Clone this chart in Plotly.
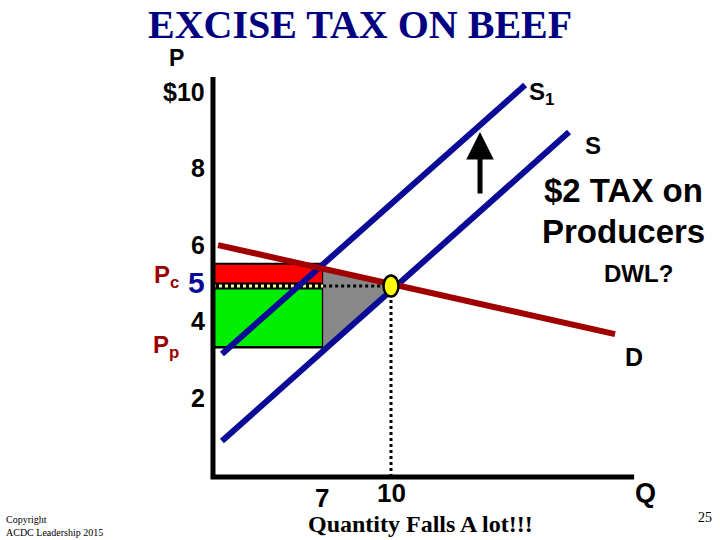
import plotly.graph_objects as go

# ---------------- data ----------------
title_text = "EXCISE TAX ON BEEF"
price_ticks = [10, 8, 6, 4, 2]
price_tick_text = ["$10", "8", "6", "4", "2"]
qty_ticks = [7, 10]
qty_tick_text = ["7", "10"]

axis_q = [2.26, 2.26, 20.57]      # top of P axis -> origin -> end of Q axis
axis_p = [10.47, 0.0, 0.0]

supply_q = [2.65, 17.74]
supply_p = [0.94, 9.03]
supply1_q = [2.65, 15.83]
supply1_p = [3.22, 10.26]
demand_q = [2.48, 19.74]
demand_p = [6.07, 3.74]

eq_q, eq_p = 10.0, 5.0
tax_q = 7.05
price_consumer = 5.58
price_producer = 3.40
arrow_q = 13.87
arrow_p = [7.38, 9.03]

NAVY = "#0a0a96"
DRED = "#a00000"
SANS = "Liberation Sans, Arial, sans-serif"
SERIF = "Liberation Serif, Times New Roman, serif"


def on_line(qs, ps, q):
    return ps[0] + (ps[1] - ps[0]) * (q - qs[0]) / (qs[1] - qs[0])


q0 = axis_q[1]
fig = go.Figure()

# consumer tax burden (red) and producer tax burden (green)
fig.add_trace(go.Scatter(x=[q0, tax_q, tax_q, q0, q0],
                         y=[eq_p, eq_p, price_consumer, price_consumer, eq_p],
                         fill="toself", fillcolor="#ff0000", mode="lines",
                         line=dict(color="black", width=2)))
fig.add_trace(go.Scatter(x=[q0, tax_q, tax_q, q0, q0],
                         y=[price_producer, price_producer, eq_p, eq_p, price_producer],
                         fill="toself", fillcolor="#00ee00", mode="lines",
                         line=dict(color="black", width=2.5)))
# deadweight loss triangle
fig.add_trace(go.Scatter(x=[tax_q, eq_q, tax_q, tax_q],
                         y=[on_line(demand_q, demand_p, tax_q), eq_p,
                            on_line(supply_q, supply_p, tax_q),
                            on_line(demand_q, demand_p, tax_q)],
                         fill="toself", fillcolor="#888888", mode="lines",
                         line=dict(color="#888888", width=0)))
# price line band across the rectangles
fig.add_trace(go.Scatter(x=[q0, tax_q], y=[eq_p, eq_p], mode="lines",
                         line=dict(color="black", width=7)))
fig.add_trace(go.Scatter(x=[q0, tax_q], y=[eq_p, eq_p], mode="lines",
                         line=dict(color="#ffff99", width=3, dash="dot")))
# dotted guides
fig.add_trace(go.Scatter(x=[tax_q, eq_q], y=[eq_p, eq_p], mode="lines",
                         line=dict(color="black", width=3, dash="dot")))
fig.add_trace(go.Scatter(x=[eq_q, eq_q], y=[0, eq_p], mode="lines",
                         line=dict(color="black", width=3, dash="dot")))
# axes
fig.add_trace(go.Scatter(x=axis_q, y=axis_p, mode="lines",
                         line=dict(color="black", width=5)))
# curves
fig.add_trace(go.Scatter(x=supply1_q, y=supply1_p, mode="lines",
                         line=dict(color=NAVY, width=6)))
fig.add_trace(go.Scatter(x=supply_q, y=supply_p, mode="lines",
                         line=dict(color=NAVY, width=6)))
fig.add_trace(go.Scatter(x=demand_q, y=demand_p, mode="lines",
                         line=dict(color=DRED, width=6)))

# yellow equilibrium dot (ellipse ~14 x 20 px)
dq = 7.5 / 23.0
dp = 10.5 / 38.2
fig.add_shape(type="circle", xref="x", yref="y",
              x0=eq_q - dq, x1=eq_q + dq, y0=eq_p - dp, y1=eq_p + dp,
              fillcolor="#ffff00", line=dict(color="black", width=2.5))

# shift arrow
fig.add_annotation(x=arrow_q, y=arrow_p[1], ax=arrow_q, ay=arrow_p[0],
                   xref="x", yref="y", axref="x", ayref="y", text="",
                   showarrow=True, arrowhead=2, arrowsize=1.1, arrowwidth=5,
                   arrowcolor="black", standoff=0)

ann = []


def txt(text, x, y, size, color="black", font=SANS, xanchor="center",
        yanchor="middle", xref="paper", yref="paper", align="center"):
    if xref == "paper":
        x = x / 720.0
        y = 1 - y / 540.0
    ann.append(dict(text=text, x=x, y=y, xref=xref, yref=yref, showarrow=False,
                    xanchor=xanchor, yanchor=yanchor, align=align,
                    font=dict(family=font, size=size, color=color)))


# price tick labels
for v, t in zip(price_ticks, price_tick_text):
    txt("<b>%s</b>" % t, 1.98, v + 0.08, 25, xref="x", yref="y", xanchor="right")
txt("<b>5</b>", 1.98, eq_p + 0.1, 30, color=NAVY, xref="x", yref="y", xanchor="right")
# quantity tick labels
txt("<b>%s</b>" % qty_tick_text[0], qty_ticks[0], -0.55, 26, xref="x", yref="y")
txt("<b>%s</b>" % qty_tick_text[1], qty_ticks[1], -0.42, 26, xref="x", yref="y")

txt("<b>%s</b>" % title_text, 360, 0, 40, color="#000080", font=SERIF, yanchor="top")
txt("<b>P</b>", 176, 58, 23)
txt("<b>P<sub>c</sub></b>", 181, 276, 24, color="#990000", xanchor="right")
txt("<b>P<sub>p</sub></b>", 181, 346, 24, color="#990000", xanchor="right")
txt("<b>S<sub>1</sub></b>", 527, 93, 24, xanchor="left")
txt("<b>S</b>", 593, 145, 24)
txt("<b>$2 TAX on</b>", 623, 190, 33)
txt("<b>Producers</b>", 623, 232, 33)
txt("<b>DWL?</b>", 638, 273, 24)
txt("<b>D</b>", 634, 357, 25)
txt("<b>Q</b>", 645, 493, 27)
txt("<b>Quantity Falls A lot!!!</b>", 420, 524, 24, font=SERIF)
txt("Copyright<br>ACDC Leadership 2015", 4, 526, 10, font=SERIF,
    xanchor="left", align="left")
txt("25", 705, 517, 14, font=SERIF)

fig.update_layout(
    width=720, height=540, margin=dict(l=0, r=0, t=0, b=0),
    paper_bgcolor="white", plot_bgcolor="white", showlegend=False,
    xaxis=dict(range=[-7.0, 24.304], visible=False, fixedrange=True),
    yaxis=dict(range=[-1.649, 12.487], visible=False, fixedrange=True),
    annotations=fig.layout.annotations + tuple(ann),
)

fig.write_html("out.html", config={"displayModeBar": False},
               post_script="document.body.style.margin='0';"
                           "document.body.style.overflow='hidden';")
